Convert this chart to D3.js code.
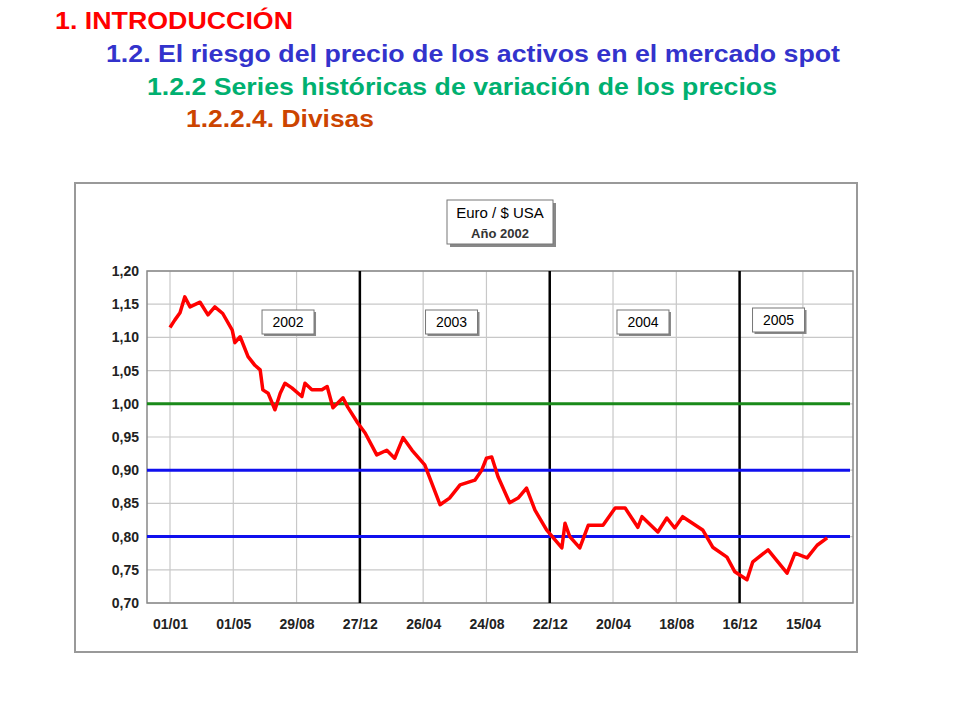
<!DOCTYPE html>
<html>
<head>
<meta charset="utf-8">
<script src="https://cdn.jsdelivr.net/npm/d3@7"></script>
<style>
  body { margin: 0; background: #fff; font-family: "Liberation Sans", Arial, sans-serif; }
</style>
</head>
<body>
<div id="chart"></div>
<script>
// days since 01/01/2002 and EUR/USD rate
var days  = [0, 9, 19, 28, 38, 57, 72, 85, 100, 118, 123, 133, 148, 161, 171, 176, 186, 199, 209, 218, 231, 250, 256, 269, 288, 298, 309, 328, 337, 356, 370, 392, 411, 426, 442, 459, 483, 512, 530, 550, 578, 591, 600, 610, 622, 644, 660, 676, 692, 714, 743, 749, 758, 777, 793, 821, 844, 863, 887, 895, 925, 942, 957, 972, 1010, 1029, 1056, 1071, 1094, 1105, 1134, 1170, 1185, 1208, 1227, 1246];
var rates = [1.115, 1.126, 1.137, 1.161, 1.146, 1.153, 1.134, 1.146, 1.136, 1.111, 1.092, 1.101, 1.071, 1.058, 1.051, 1.021, 1.016, 0.991, 1.016, 1.031, 1.024, 1.011, 1.031, 1.021, 1.021, 1.026, 0.994, 1.009, 0.995, 0.971, 0.956, 0.923, 0.930, 0.918, 0.949, 0.930, 0.908, 0.848, 0.858, 0.878, 0.885, 0.900, 0.918, 0.920, 0.890, 0.851, 0.858, 0.873, 0.840, 0.810, 0.783, 0.820, 0.800, 0.783, 0.817, 0.817, 0.843, 0.843, 0.814, 0.830, 0.807, 0.828, 0.813, 0.830, 0.810, 0.784, 0.769, 0.747, 0.735, 0.762, 0.780, 0.745, 0.775, 0.768, 0.787, 0.798];
var tickDays   = [0, 120, 240, 360, 480, 600, 720, 840, 960, 1080, 1200];
var tickLabels = ["01/01", "01/05", "29/08", "27/12", "26/04", "24/08", "22/12", "20/04", "18/08", "16/12", "15/04"];
var yearBreaks = [360, 720, 1080];
var years      = ["2002", "2003", "2004", "2005"];
var yearPos    = [220, 530, 893, 1150];
var refLevels  = [1.00, 0.90, 0.80];
var refColors  = ["#1a8a1a", "#1010ee", "#1010ee"];

var svg = d3.select("#chart").append("svg").attr("width", 960).attr("height", 720);

// headings
var heads = [
  {t: "1. INTRODUCCIÓN", x: 55, y: 29, c: "#ff0000"},
  {t: "1.2. El riesgo del precio de los activos en el mercado spot", x: 106, y: 62, c: "#3333cc"},
  {t: "1.2.2 Series históricas de variación de los precios", x: 147, y: 95, c: "#00b070"},
  {t: "1.2.2.4. Divisas", x: 186, y: 127, c: "#cc4400"}
];
svg.selectAll(".head").data(heads).enter().append("text")
  .attr("x", d => d.x).attr("y", d => d.y).attr("fill", d => d.c)
  .attr("font-size", 24).attr("font-weight", "bold").attr("textLength", (d, i) => [238, 734, 630, 188][i])
  .attr("lengthAdjust", "spacingAndGlyphs").text(d => d.t);

// outer frame
svg.append("rect").attr("x", 75).attr("y", 183).attr("width", 782).attr("height", 469)
  .attr("fill", "#fff").attr("stroke", "#999").attr("stroke-width", 2);

var L = 147, R = 853, T = 271, B = 603;
var x = d3.scaleLinear().domain([-43.6, 1295]).range([L, R]);
var y = d3.scaleLinear().domain([0.70, 1.20]).range([B, T]);

var g = svg.append("g");
// grid
g.selectAll(".vg").data(tickDays).enter().append("line")
  .attr("x1", d => x(d)).attr("x2", d => x(d)).attr("y1", T).attr("y2", B)
  .attr("stroke", "#c8c8c8").attr("stroke-width", 1.2);
g.selectAll(".hg").data(d3.range(0.70, 1.2001, 0.05)).enter().append("line")
  .attr("x1", L).attr("x2", R).attr("y1", d => y(d)).attr("y2", d => y(d))
  .attr("stroke", "#c8c8c8").attr("stroke-width", 1.2);
g.append("rect").attr("x", L).attr("y", T).attr("width", R - L).attr("height", B - T)
  .attr("fill", "none").attr("stroke", "#888").attr("stroke-width", 1.5);

// axes
var yAxis = g.append("g").attr("transform", "translate(" + L + ",0)")
  .call(d3.axisLeft(y).tickValues(d3.range(0.70, 1.2001, 0.05)).tickSize(0).tickPadding(8)
    .tickFormat(d => d3.format(".2f")(d).replace(".", ",")));
var xAxis = g.append("g").attr("transform", "translate(0," + B + ")")
  .call(d3.axisBottom(x).tickValues(tickDays).tickSize(0).tickPadding(16)
    .tickFormat((d, i) => tickLabels[i]));
[yAxis, xAxis].forEach(a => {
  a.select(".domain").remove();
  a.selectAll("text").attr("font-size", 14).attr("font-weight", "bold").attr("fill", "#222")
    .attr("font-family", "'Liberation Sans', Arial, sans-serif");
});

// year separators
g.selectAll(".yb").data(yearBreaks).enter().append("line")
  .attr("x1", d => x(d)).attr("x2", d => x(d)).attr("y1", T).attr("y2", B)
  .attr("stroke", "#000").attr("stroke-width", 2.5);

// reference levels
g.selectAll(".ref").data(refLevels).enter().append("line")
  .attr("x1", L).attr("x2", R - 3).attr("y1", d => y(d)).attr("y2", d => y(d))
  .attr("stroke", (d, i) => refColors[i]).attr("stroke-width", 3);

// series
g.append("path").datum(days.map((d, i) => [d, rates[i]]))
  .attr("fill", "none").attr("stroke", "#ff0000").attr("stroke-width", 3.5)
  .attr("stroke-linejoin", "round")
  .attr("d", d3.line().x(d => x(d[0])).y(d => y(d[1])));

// year boxes
var yb = g.selectAll(".yr").data(years).enter().append("g")
  .attr("transform", (d, i) => "translate(" + x(yearPos[i]) + "," + (i == 3 ? 320 : 322) + ")");
yb.append("rect").attr("x", -24).attr("y", -12).attr("width", 52).attr("height", 24)
  .attr("fill", "#888").attr("transform", "translate(2,2)");
yb.append("rect").attr("x", -24).attr("y", -12).attr("width", 52).attr("height", 24)
  .attr("fill", "#fff").attr("stroke", "#777");
yb.append("text").attr("x", 2).attr("y", 5).attr("text-anchor", "middle")
  .attr("font-size", 14).text(d => d);

// title box
var tb = svg.append("g").attr("transform", "translate(447,200)");
tb.append("rect").attr("x", 3).attr("y", 3).attr("width", 106).attr("height", 44).attr("fill", "#888");
tb.append("rect").attr("width", 106).attr("height", 44).attr("fill", "#fff").attr("stroke", "#777");
tb.append("text").attr("x", 53).attr("y", 18).attr("text-anchor", "middle").attr("font-size", 15).text("Euro / $ USA");
tb.append("text").attr("x", 53).attr("y", 38).attr("text-anchor", "middle").attr("font-size", 13)
  .attr("font-weight", "bold").attr("fill", "#333").text("Año 2002");
</script>
</body>
</html>
